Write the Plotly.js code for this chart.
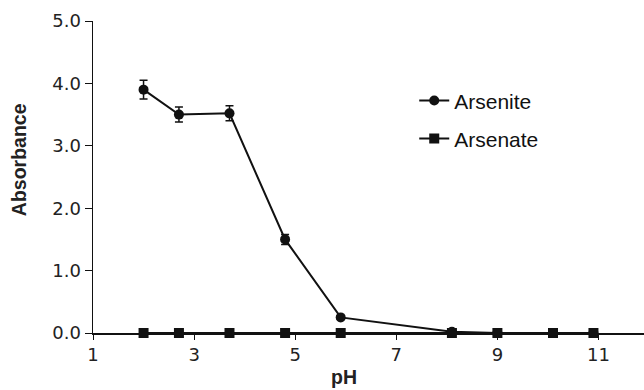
<!DOCTYPE html>
<html>
<head>
<meta charset="utf-8">
<script src="https://cdn.plot.ly/plotly-3.0.1.min.js"></script>
<style>html,body{margin:0;padding:0;background:#fff}#chart{width:644px;height:390px}</style>
</head>
<body>
<div id="chart"></div>
<script>
var pH = [2.0, 2.7, 3.7, 4.8, 5.9, 8.1, 9.0, 10.1, 10.9];
var arsenite = [3.9, 3.5, 3.52, 1.5, 0.25, 0.02, 0.0, 0.0, 0.0];
var arseniteErr = [0.15, 0.12, 0.12, 0.08, 0.02, 0.01, 0, 0, 0];
var arsenate = [0.0, 0.0, 0.0, 0.0, 0.0, 0.0, 0.0, 0.0, 0.0];
var xTicks = [1, 3, 5, 7, 9, 11];
var yTicks = [0, 1, 2, 3, 4, 5];
var yTickLabels = ['0.0', '1.0', '2.0', '3.0', '4.0', '5.0'];
var xTitle = 'pH';
var yTitle = 'Absorbance';

var traces = [
  {
    x: pH, y: arsenite, name: 'Arsenite', type: 'scatter', mode: 'lines+markers',
    line: {color: '#111', width: 2},
    marker: {symbol: 'circle', size: 10, color: '#111'},
    error_y: {type: 'data', array: arseniteErr, visible: true, color: '#111', thickness: 1.5, width: 4},
    cliponaxis: false, legend: 'legend'
  },
  {
    x: pH, y: arsenate, name: 'Arsenate', type: 'scatter', mode: 'lines+markers',
    line: {color: '#111', width: 2},
    marker: {symbol: 'square', size: 10, color: '#111'},
    cliponaxis: false, legend: 'legend2'
  }
];

var legendFont = {family: 'Liberation Sans, Arial, sans-serif', size: 21, color: '#111'};
var tickFont = {family: 'DejaVu Sans, Verdana, sans-serif', size: 18, color: '#222'};
var titleFont = {family: 'Liberation Sans, Arial, sans-serif', size: 19.5, color: '#222', weight: 'bold'};
var layout = {
  width: 644, height: 390,
  margin: {l: 93, r: 0, t: 21, b: 57},
  paper_bgcolor: '#fff', plot_bgcolor: '#fff',
  showlegend: true,
  xaxis: {
    range: [1, 11.9], tickvals: xTicks, ticktext: xTicks.map(String),
    showgrid: false, zeroline: false, showline: true, linecolor: '#111', linewidth: 1.5,
    ticks: 'outside', ticklen: 5, tickcolor: '#111', tickwidth: 1,
    tickfont: tickFont
  },
  yaxis: {
    range: [0, 5], tickvals: yTicks, ticktext: yTickLabels,
    showgrid: false, zeroline: false, showline: true, linecolor: '#111', linewidth: 1.5,
    ticks: 'outside', ticklen: 7, tickcolor: '#111', tickwidth: 1,
    tickfont: tickFont
  },
  annotations: [
    {text: xTitle, xref: 'paper', yref: 'paper', x: 0.455, y: 0, yshift: -56, xanchor: 'center', yanchor: 'bottom', borderpad: 0, showarrow: false, font: titleFont},
    {text: yTitle, xref: 'paper', yref: 'paper', x: 0, xshift: -74, y: 0.554, xanchor: 'center', yanchor: 'middle', textangle: -90, showarrow: false, font: titleFont}
  ],
  legend: {x: 0.583, y: 0.744, xanchor: 'left', yanchor: 'middle', font: legendFont, bgcolor: 'rgba(0,0,0,0)', borderwidth: 0},
  legend2: {x: 0.583, y: 0.622, xanchor: 'left', yanchor: 'middle', font: legendFont, bgcolor: 'rgba(0,0,0,0)', borderwidth: 0}
};

Plotly.newPlot('chart', traces, layout, {displayModeBar: false, staticPlot: true});
</script>
</body>
</html>
